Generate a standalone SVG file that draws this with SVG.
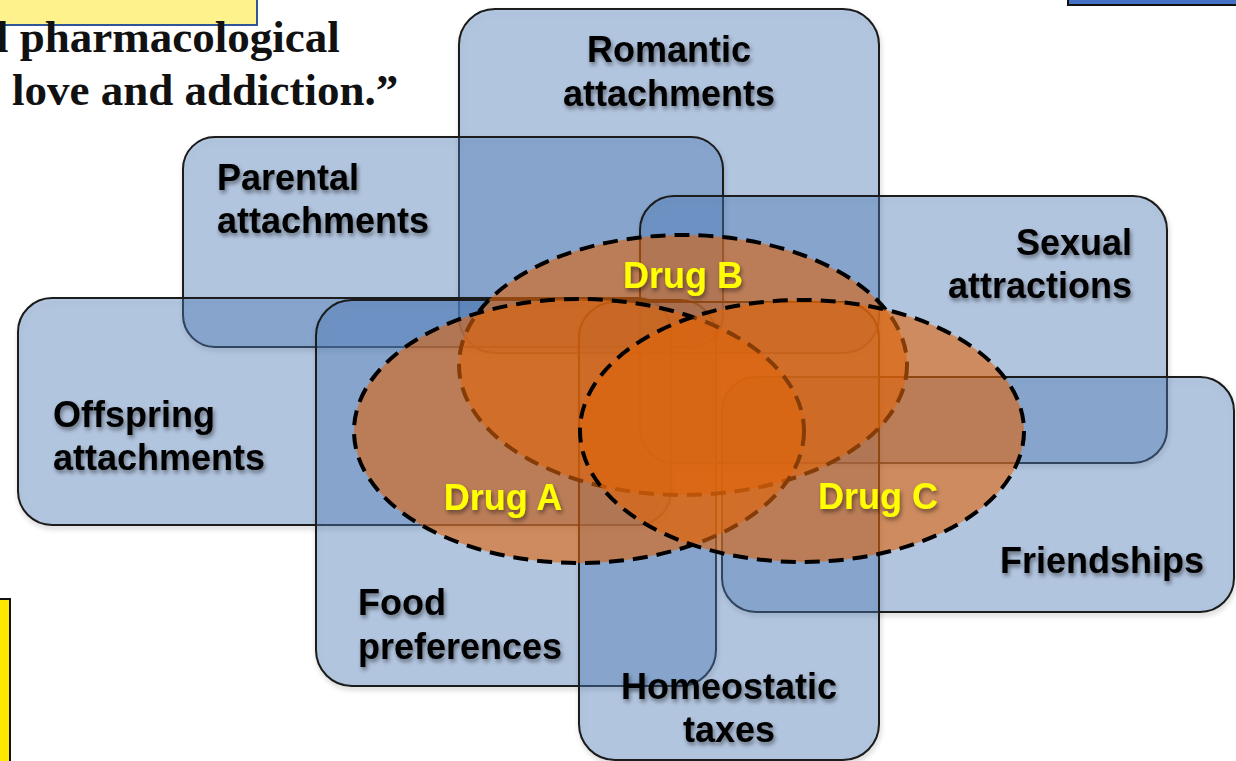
<svg xmlns="http://www.w3.org/2000/svg" width="1236" height="761" viewBox="0 0 1236 761">
<defs>
<filter id="boxShadow" x="-10%" y="-10%" width="120%" height="120%">
<feDropShadow dx="1" dy="3" stdDeviation="2.5" flood-color="#000" flood-opacity="0.22"/>
</filter>
<filter id="txtShadow" x="-10%" y="-30%" width="120%" height="160%">
<feDropShadow dx="1.5" dy="3" stdDeviation="2" flood-color="#000" flood-opacity="0.45"/>
</filter>
</defs>
<style>
.box{fill:#4F81BD;fill-opacity:0.38;stroke:#1a1a1a;stroke-width:2;filter:url(#boxShadow)}
.lbl{font-family:"Liberation Sans",Arial,Helvetica,sans-serif;font-weight:bold;font-size:36px;fill:#000;filter:url(#txtShadow)}
.drug{fill:#E0640A;fill-opacity:0.6;stroke:#000;stroke-width:4;stroke-dasharray:15 9}
.dlbl{font-family:"Liberation Sans",Arial,Helvetica,sans-serif;font-weight:bold;font-size:36px;fill:#FFFF00;filter:url(#txtShadow)}
.quote{font-family:"Liberation Serif","Times New Roman",serif;font-weight:bold;font-size:45px;fill:#111}
</style>
<rect width="1236" height="761" fill="#fff"/>

<g id="slide-fragments">
<rect x="-2" y="-2" width="259" height="27" fill="#FDF28C" stroke="#2F5597" stroke-width="2"/>
<text class="quote" x="-4" y="52">l pharmacological</text>
<text class="quote" x="12" y="105">love and addiction.”</text>
<rect x="1068" y="-2" width="170" height="7" fill="#4472C4" stroke="#111" stroke-width="2"/>
<rect x="-2" y="599" width="12" height="164" fill="#FFE800" stroke="#111" stroke-width="2"/>
</g>

<g id="node-romantic">
<rect class="box" x="459" y="9" width="420" height="344" rx="36"/>
<text class="lbl" x="669" y="62" text-anchor="middle">Romantic</text>
<text class="lbl" x="669" y="106" text-anchor="middle">attachments</text>
</g>
<g id="node-parental">
<rect class="box" x="183" y="137" width="540" height="210" rx="32"/>
<text class="lbl" x="217" y="190">Parental</text>
<text class="lbl" x="217" y="233">attachments</text>
</g>
<g id="node-sexual">
<rect class="box" x="640" y="196" width="527" height="267" rx="34"/>
<text class="lbl" x="1132" y="255" text-anchor="end">Sexual</text>
<text class="lbl" x="1132" y="298" text-anchor="end">attractions</text>
</g>
<g id="node-offspring">
<rect class="box" x="18" y="298" width="653" height="227" rx="34"/>
<text class="lbl" x="53" y="427">Offspring</text>
<text class="lbl" x="53" y="470">attachments</text>
</g>
<g id="node-friendships">
<rect class="box" x="722" y="377" width="512" height="235" rx="34"/>
<text class="lbl" x="1204" y="573" text-anchor="end">Friendships</text>
</g>
<g id="node-food">
<rect class="box" x="316" y="300" width="400" height="386" rx="36"/>
<text class="lbl" x="358" y="615">Food</text>
<text class="lbl" x="358" y="659">preferences</text>
</g>
<g id="node-homeostatic">
<rect class="box" x="579" y="302" width="300" height="458" rx="36"/>
<text class="lbl" x="729" y="699" text-anchor="middle">Homeostatic</text>
<text class="lbl" x="729" y="742" text-anchor="middle">taxes</text>
</g>

<g id="node-drugB">
<ellipse class="drug" cx="683" cy="365" rx="224" ry="130"/>
<text class="dlbl" x="683" y="288" text-anchor="middle">Drug B</text>
</g>
<g id="node-drugA">
<ellipse class="drug" cx="579" cy="431" rx="225" ry="132"/>
<text class="dlbl" x="503" y="510" text-anchor="middle">Drug A</text>
</g>
<g id="node-drugC">
<ellipse class="drug" cx="802" cy="431" rx="222" ry="131"/>
<text class="dlbl" x="878" y="509" text-anchor="middle">Drug C</text>
</g>

<g id="connectors"/>
</svg>
